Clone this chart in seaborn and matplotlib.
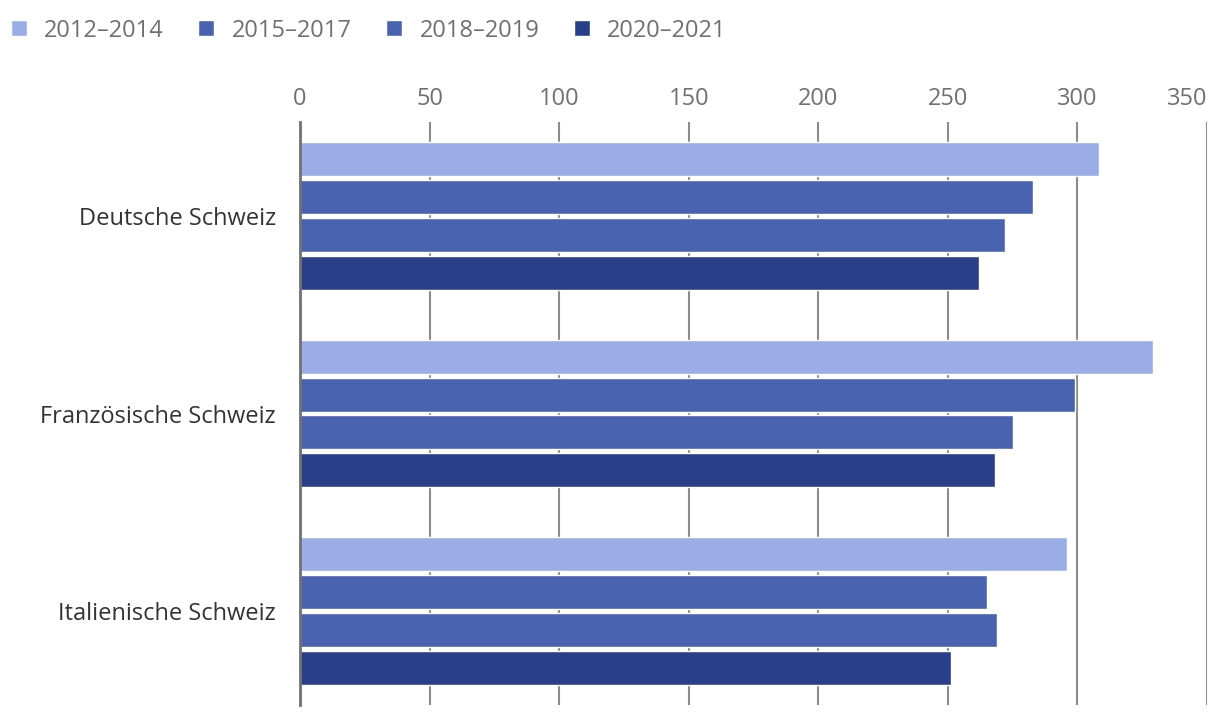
import pandas as pd
import numpy as np
import matplotlib.pyplot as plt
import seaborn as sns

regions = ["Deutsche Schweiz", "Französische Schweiz", "Italienische Schweiz"]
periods = ["2012–2014", "2015–2017", "2018–2019", "2020–2021"]
v_2012_2014 = [308.5, 329.2, 296.1]
v_2015_2017 = [282.9, 299.1, 265.2]
v_2018_2019 = [272.1, 275.3, 269.1]
v_2020_2021 = [262.1, 268.3, 251.3]
colors = ["#9bade6", "#4a63b0", "#4a63b0", "#2a3f8a"]

values = [v_2012_2014, v_2015_2017, v_2018_2019, v_2020_2021]
rows = []
for p, vals in zip(periods, values):
    for r, v in zip(regions, vals):
        rows.append({"Region": r, "Periode": p, "Wert": v})
df = pd.DataFrame(rows)

sns.set_style("white")
plt.rcParams['font.family'] = ['Open Sans', 'DejaVu Sans']

fig = plt.figure(figsize=(12.2, 7.18), dpi=100)
ax = fig.add_axes([300/1220, 1-705/718, 907/1220, (705-122)/718])

sns.barplot(data=df, y="Region", x="Wert", hue="Periode", hue_order=periods,
            order=regions, palette=colors, orient="h", width=0.768, gap=0.105,
            saturation=1, ax=ax)

ax.set_xlim(0, 350)
ax.set_ylim(2.475, -0.475)
ax.set_xticks(np.arange(0, 351, 50))
ax.xaxis.tick_top()
ax.tick_params(axis='x', length=0, pad=8, labelsize=17, labelcolor="#707070")
ax.tick_params(axis='y', length=0, pad=17.5, labelsize=17, labelcolor="#333333")
# last tick label sits left of its gridline
ax.get_xticklabels()[-1].set_horizontalalignment("right")
ax.set_xlabel("")
ax.set_ylabel("")
ax.grid(axis='x', color="#8c8c8c", linewidth=1.5)
ax.set_axisbelow(True)
for s in ["top", "right", "bottom"]:
    ax.spines[s].set_visible(False)
ax.spines["left"].set_color("#707070")
ax.spines["left"].set_linewidth(2)

handles, labels = ax.get_legend_handles_labels()
ax.legend_.remove()
fig.legend(handles, labels, loc="upper left", bbox_to_anchor=(0.0, 1 - 8/718), ncol=4,
           frameon=False, fontsize=17, labelcolor="#707070", handlelength=0.68,
           handleheight=0.68, handletextpad=0.72, columnspacing=1.48,
           borderaxespad=0.05)

fig.savefig("out.png", dpi=100)
